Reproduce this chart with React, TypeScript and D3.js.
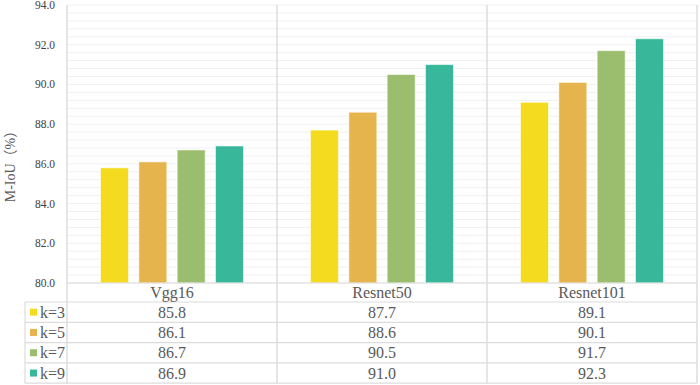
import React from "react";
import * as d3 from "d3";

const categories = ["Vgg16", "Resnet50", "Resnet101"];
const seriesNames = ["k=3", "k=5", "k=7", "k=9"];
const seriesColors = ["#F5DB1F", "#E6B44C", "#9BBE6E", "#38B79B"];
const values: number[][] = [
  [85.8, 87.7, 89.1],
  [86.1, 88.6, 90.1],
  [86.7, 90.5, 91.7],
  [86.9, 91.0, 92.3],
];
const yTicks = [80, 82, 84, 86, 88, 90, 92, 94];
const yTitle = "M-IoU（%）";

const W = 700;
const H = 385;
const plotLeft = 67;
const plotRight = 697;
const plotTop = 5;
const plotBottom = 283;
const tableLeft = 25;
const headerBottom = 302;
const rowH = 20.3;

const FONT = '"Liberation Serif", "Times New Roman", "DejaVu Serif", "Noto Sans CJK SC", serif';
const tf: React.CSSProperties = { fontFamily: FONT };

export default function App() {
  const y = d3.scaleLinear().domain([80, 94]).range([plotBottom, plotTop]);
  const x = d3.scaleBand<string>().domain(categories).range([plotLeft, plotRight]).padding(0);
  const xi = d3
    .scaleBand<string>()
    .domain(seriesNames)
    .range([0, x.bandwidth()])
    .paddingInner(0.27)
    .paddingOuter(0.874);
  const minorTicks = d3.range(0, 36).map((i) => 80 + i * 0.4);
  const rowsBottom = headerBottom + rowH * seriesNames.length;

  return (
    <svg
      width={W}
      height={H}
      style={{ position: "absolute", left: 0, top: 0, background: "#fff", fontFamily: FONT }}
    >
      {minorTicks.map((t, i) => (
        <line
          key={"g" + i}
          x1={plotLeft}
          x2={plotRight}
          y1={y(t)}
          y2={y(t)}
          stroke="#f0f0f0"
          strokeWidth={1}
        />
      ))}
      {seriesNames.map((s, si) =>
        categories.map((c, ci) => (
          <rect
            key={s + c}
            x={(x(c) as number) + (xi(s) as number)}
            y={y(values[si][ci])}
            width={xi.bandwidth()}
            height={plotBottom - y(values[si][ci])}
            fill={seriesColors[si]}
            stroke="rgba(255,255,255,0.55)"
            strokeWidth={1}
          />
        ))
      )}
      {yTicks.map((t) => (
        <text
          key={"yt" + t}
          x={55}
          y={y(t)}
          dy="0.35em"
          textAnchor="end"
          fontSize={11.5}
          fill="#404040"
          style={tf}
        >
          {d3.format(".1f")(t)}
        </text>
      ))}
      <text
        transform={`translate(10,163) rotate(-90)`}
        textAnchor="middle"
        dy="0.35em"
        fontSize={14}
        fill="#595959"
        style={tf}
      >
        {yTitle}
      </text>
      <line x1={plotLeft} x2={plotRight} y1={plotBottom} y2={plotBottom} stroke="#dcdcdc" strokeWidth={1.2} />
      {d3.range(0, seriesNames.length + 1).map((i) => (
        <line
          key={"h" + i}
          x1={tableLeft}
          x2={plotRight}
          y1={headerBottom + i * rowH}
          y2={headerBottom + i * rowH}
          stroke="#dcdcdc"
          strokeWidth={1.2}
        />
      ))}
      <line x1={tableLeft} x2={tableLeft} y1={headerBottom} y2={rowsBottom} stroke="#dcdcdc" strokeWidth={1.2} />
      {[plotLeft, ...categories.map((c) => (x(c) as number) + x.bandwidth())].map((vx, i) => (
        <line key={"v" + i} x1={vx} x2={vx} y1={plotTop} y2={rowsBottom} stroke="#dcdcdc" strokeWidth={1.5} />
      ))}
      {categories.map((c) => (
        <text
          key={"c" + c}
          x={(x(c) as number) + x.bandwidth() / 2}
          y={(plotBottom + headerBottom) / 2}
          dy="0.35em"
          textAnchor="middle"
          fontSize={16}
          fill="#595959"
          style={tf}
        >
          {c}
        </text>
      ))}
      {seriesNames.map((s, si) => {
        const cy = headerBottom + rowH * si + rowH / 2;
        return (
          <g key={"r" + s}>
            <rect x={30} y={cy - 3.5} width={7} height={7} fill={seriesColors[si]} />
            <text x={40} y={cy} dy="0.35em" fontSize={16} fill="#595959" style={tf}>
              {s}
            </text>
            {categories.map((c, ci) => (
              <text
                key={"v" + c}
                x={(x(c) as number) + x.bandwidth() / 2}
                y={cy}
                dy="0.35em"
                textAnchor="middle"
                fontSize={16}
                fill="#595959"
                style={tf}
              >
                {d3.format(".1f")(values[si][ci])}
              </text>
            ))}
          </g>
        );
      })}
    </svg>
  );
}
